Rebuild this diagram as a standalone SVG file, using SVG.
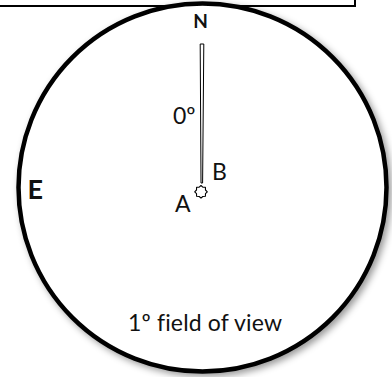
<svg xmlns="http://www.w3.org/2000/svg" width="392" height="377" viewBox="0 0 392 377">
  <defs>
    <filter id="shadow" x="-10%" y="-10%" width="125%" height="125%">
      <feDropShadow dx="3" dy="3" stdDeviation="3.5" flood-color="#000" flood-opacity="0.4"/>
    </filter>
    <style>
      .lbl { font-family: Lato, "Open Sans", "DejaVu Sans", sans-serif; fill: #111; font-variant-ligatures: none; }
      .dir { font-weight: bold; }
      .frame { fill: #fff; stroke: #000; stroke-width: 2; }
      .field { fill: #fff; stroke: #000; stroke-width: 4.5; }
      .needle { fill: #fff; stroke: #000; stroke-width: 1; stroke-linejoin: round; }
      .spot { fill: #fff; stroke: #000; stroke-width: 1.1; stroke-linejoin: round; }
    </style>
  </defs>
  <rect width="392" height="377" fill="#fff"/>
  <g id="top-box">
    <rect class="frame" x="-3" y="-3" width="358" height="9"/>
  </g>
  <g id="field-of-view">
    <circle class="field" cx="202.5" cy="187.5" r="184" filter="url(#shadow)"/>
    <text class="lbl" x="128" y="330.7" font-size="23" textLength="154">1º field of view</text>
  </g>
  <g id="connectors">
    <polygon class="needle" points="200.2,44 203.8,44 202.6,183 201,183"/>
  </g>
  <g id="north">
    <text class="lbl dir" x="200.5" y="28" font-size="19" text-anchor="middle">N</text>
  </g>
  <g id="east">
    <text class="lbl dir" x="27.5" y="198.5" font-size="27">E</text>
  </g>
  <g id="angle">
    <text class="lbl" x="173" y="124" font-size="23">0º</text>
  </g>
  <g id="point-a-b">
    <polygon class="spot" points="207.3,191.8 205.5,193.6 205.4,196.3 202.8,196.5 201,198.1 199.2,196.5 196.6,196.3 196.5,193.6 194.7,191.8 196.5,190 196.6,187.3 199.2,187.1 201,185.5 202.8,187.1 205.4,187.3 205.5,190"/>
    <text class="lbl" x="212" y="180" font-size="23">B</text>
    <text class="lbl" x="175" y="212" font-size="23">A</text>
  </g>
</svg>
